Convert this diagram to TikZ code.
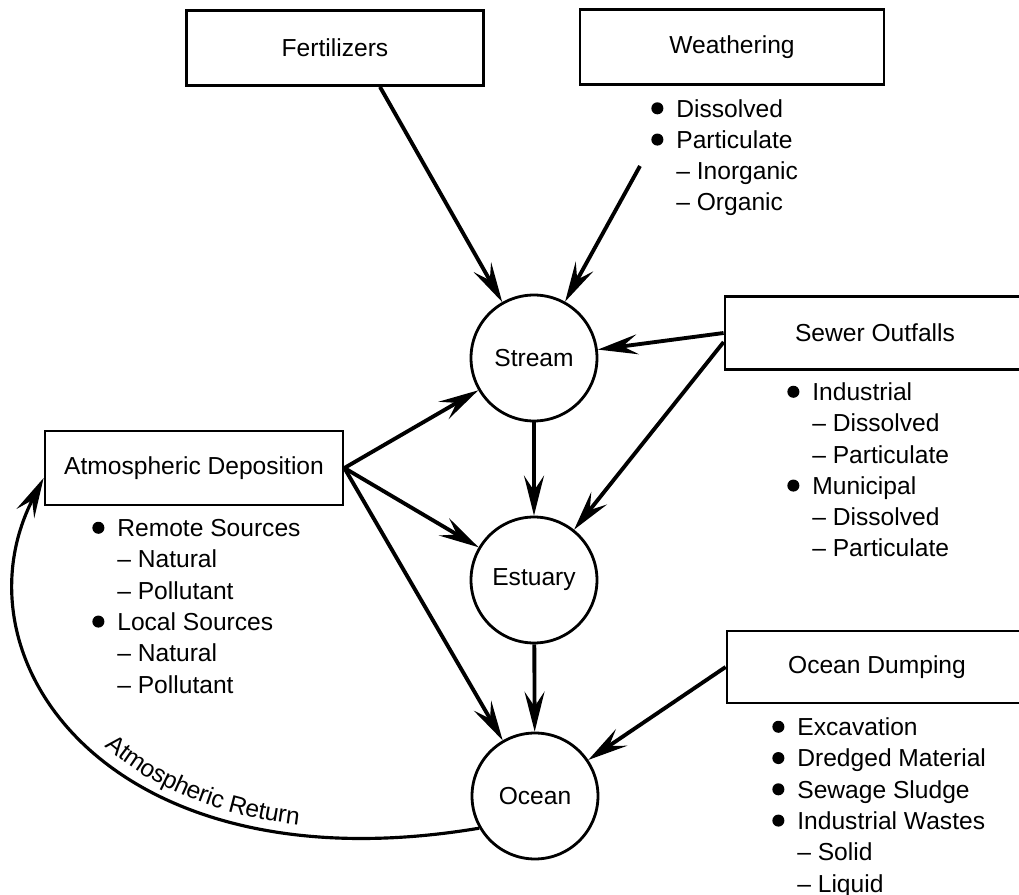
\documentclass[tikz,border=0pt]{standalone}
\usepackage{fontspec}
\setmainfont{Liberation Sans}
\usetikzlibrary{arrows.meta,decorations.text}

\newcommand\bul{\tikz[baseline=0pt]\fill (0.245em,0.36em) circle (0.245em);}
\newcommand\itm[1]{\makebox[0.5cm][l]{\bul}#1}
\newcommand\sbi[1]{\hspace*{0.5cm}– #1}
\newcommand\retfont{\fontsize{14}{17}\selectfont}

\begin{document}
\begin{tikzpicture}[x=0.02cm,y=-0.02cm,
        font=\fontsize{14}{17.8}\selectfont,
        srcbox/.style={draw,line width=1.6pt,minimum width=5.94cm,minimum height=1.5cm,inner sep=0pt},
        water/.style={draw,circle,line width=1.6pt,minimum size=2.52cm,inner sep=0pt},
        flow/.style={line width=2.2pt,-{Stealth[length=0.8cm,width=0.4cm,inset=0.3cm]}},
        items/.style={anchor=base west,align=left,inner sep=0pt}
    ]
        \useasboundingbox (0,0) rectangle (1019,895);

        % sources
        \node[srcbox] (fert) at (335,48) {Fertilizers};
        \node[srcbox,minimum width=6.08cm] (weath) at (732,47) {Weathering};
        \node[srcbox,minimum width=6cm,minimum height=1.46cm] (sewer) at (875,333) {Sewer Outfalls};
        \node[srcbox,minimum width=6cm,minimum height=1.44cm] (dump) at (877,667) {Ocean Dumping};
        \node[srcbox,minimum width=5.96cm,minimum height=1.48cm] (atmos) at (194,468) {Atmospheric Deposition};

        % water bodies
        \node[water] (stream) at (534,358) {Stream};
        \node[water] (estuary) at (534,580) {Estuary};
        \node[water] (ocean) at (535,796) {Ocean};

        % lists (placed by the baseline of their last line)
        \node[items] (weathlist) at (651,211) {\itm{Dissolved}\\\itm{Particulate}\\\sbi{Inorganic}\\\sbi{Organic}};
        \node[items] (sewerlist) at (787,557) {\itm{Industrial}\\\sbi{Dissolved}\\\sbi{Particulate}\\
            \itm{Municipal}\\\sbi{Dissolved}\\\sbi{Particulate}};
        \node[items] (dumplist) at (772,892) {\itm{Excavation}\\\itm{Dredged Material}\\\itm{Sewage Sludge}\\
            \itm{Industrial Wastes}\\\sbi{Solid}\\\sbi{Liquid}};
        \node[items] (atmoslist) at (92,693) {\itm{Remote Sources}\\\sbi{Natural}\\\sbi{Pollutant}\\
            \itm{Local Sources}\\\sbi{Natural}\\\sbi{Pollutant}};

        % flows
        \coordinate (wfoot) at (640,166);
        \draw[flow] ([xshift=0.9cm]fert.south) -- (stream);
        \draw[flow] (wfoot) -- (stream);
        \draw[flow] (sewer.west) -- (stream);
        \draw[flow] ([yshift=-0.18cm]sewer.west) -- (estuary);
        \draw[flow] (atmos.east) -- (stream);
        \draw[flow] (atmos.east) -- (estuary);
        \draw[flow] (atmos.east) -- (ocean);
        \draw[flow] (stream) -- (estuary);
        \draw[flow] (estuary) -- (ocean);
        \draw[flow] (dump.west) -- (ocean);

        % return to the atmosphere
        \draw[line width=1.8pt,{Stealth[length=0.8cm,width=0.4cm,inset=0.3cm]}-]
            ([yshift=-0.2cm]atmos.west) .. controls (-50,660) and (110,890) .. (ocean.210);
        \path[decorate,decoration={text along path,text={|\retfont|Atmospheric Return},
                raise=0.2cm,text align={left indent=6.1cm}}]
            ([yshift=-0.2cm]atmos.west) .. controls (-50,660) and (110,890) .. (ocean.210);
    \end{tikzpicture}
\end{document}
